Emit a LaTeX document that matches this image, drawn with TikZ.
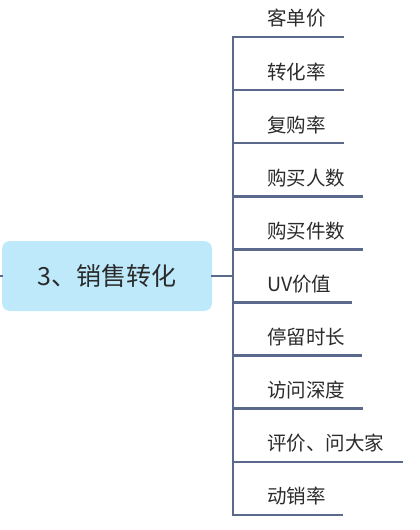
\documentclass[tikz,border=0pt]{standalone}
\usepackage{fontspec}
\setmainfont{Noto Sans CJK SC}
\definecolor{linec}{HTML}{5B6A8C}
\definecolor{rootfill}{HTML}{BDE9FA}
\definecolor{textc}{HTML}{2B2B2B}
\begin{document}
\begin{tikzpicture}[x=1pt,y=-1pt,
  rootbox/.style={fill=rootfill, rounded corners=8pt, minimum width=210pt, minimum height=70pt, inner sep=0pt, text=textc, font=\fontsize{25pt}{28pt}\selectfont},
  leaf/.style={anchor=west, inner sep=0pt, text=textc, font=\fontsize{19.5pt}{22pt}\selectfont},
  conn/.style={draw=linec, line width=2.5pt, line cap=rect}]
\useasboundingbox (0,0) rectangle (420,530);
\node[rootbox] (root) at (107,276) {3、销售转化};
\coordinate (ls) at (0,276);
\coordinate (j) at (233,276);
\coordinate (vt) at (233,37);
\coordinate (vb) at (233,515);
\draw[conn] (ls) -- (root.west);
\draw[conn] (root.east) -- (j);
\draw[conn] (vt) -- (vb);
\foreach \i/\t/\e in {0/客单价/343, 1/转化率/343, 2/复购率/343, 3/购买人数/362, 4/购买件数/362, 5/UV价值/351, 6/停留时长/361, 7/访问深度/362, 8/评价、问大家/402, 9/动销率/342}{
  \pgfmathsetmacro{\yy}{37+53.1*\i}
  \coordinate (u\i) at (233,\yy);
  \coordinate (e\i) at (\e,\yy);
  \node[leaf] (t\i) at (267,\yy-18.5) {\t};
  \draw[conn] (u\i) -- (e\i);
}
\end{tikzpicture}
\end{document}
